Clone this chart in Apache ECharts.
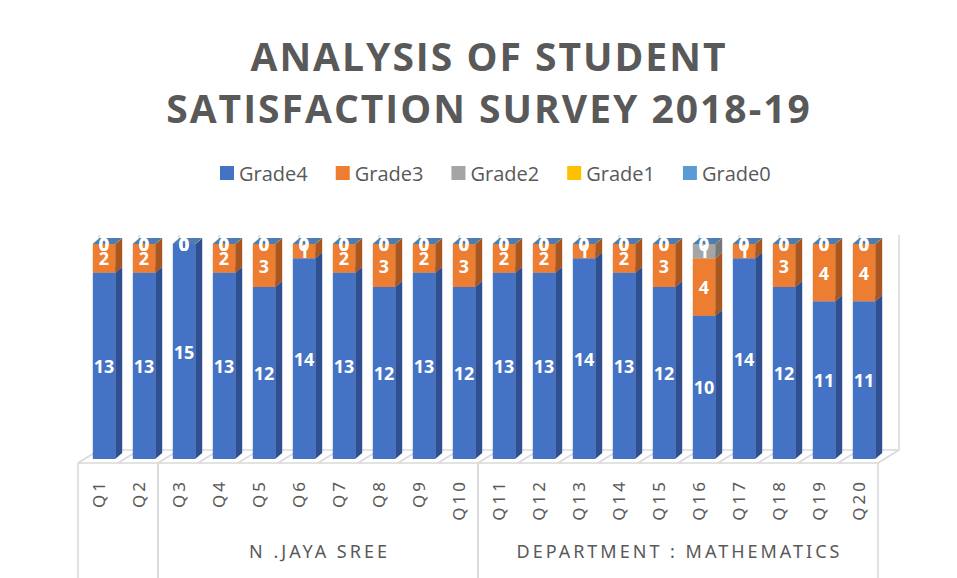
<!DOCTYPE html>
<html>
<head>
<meta charset="utf-8">
<script src="https://cdn.jsdelivr.net/npm/echarts@6/dist/echarts.min.js"></script>
<style>
  html, body { margin: 0; padding: 0; background: #fff; }
  #chart { width: 957px; height: 578px; }
  /* spaced-out text, like the Excel "expanded" spacing */
  #chart text[style*="Noto Sans"], #chart text[font-family*="Noto Sans"] { letter-spacing: 3px; }
  #chart text[style*="39px"], #chart text[font-size="39"], #chart text[font-size="39px"] { letter-spacing: 2px; }
</style>
</head>
<body>
<div id="chart"></div>
<script>
// data
const categories = ['Q1','Q2','Q3','Q4','Q5','Q6','Q7','Q8','Q9','Q10',
  'Q11','Q12','Q13','Q14','Q15','Q16','Q17','Q18','Q19','Q20'];
const grade4 = [13,13,15,13,12,14,13,12,13,12,13,13,14,13,12,10,14,12,11,11];
const grade3 = [2,2,0,2,3,1,2,3,2,3,2,2,1,2,3,4,1,3,4,4];
const grade2 = [0,0,0,0,0,0,0,0,0,0,0,0,0,0,0,1,0,0,0,0];
const grade1 = [0,0,0,0,0,0,0,0,0,0,0,0,0,0,0,0,0,0,0,0];
const grade0 = [0,0,0,0,0,0,0,0,0,0,0,0,0,0,0,0,0,0,0,0];
const groupNames = ['', 'N .JAYA SREE', 'DEPARTMENT : MATHEMATICS'];
const groupStart = [0, 2, 10];
const groupEnd = [1, 9, 19];

const gradeNames = ['Grade4','Grade3','Grade2','Grade1','Grade0'];
const gradeValues = [grade4, grade3, grade2, grade1, grade0];
const frontColors = ['#4472C4','#ED7D31','#A5A5A5','#FFC000','#5B9BD5'];
const sideColors = ['#2E5090','#A9571F','#777777','#B88A00','#41719C'];
const topColors = ['#5B86D0','#F19B5F','#BFBFBF','#FFD24D','#4C7EB3'];

// 3d look
const BAR_DX = 7, BAR_DY = -6;     // bar depth
const OFF_X = 6, OFF_Y = -4;       // bar front sits a bit behind the floor edge
const FLOOR_DX = 21, FLOOR_DY = -13;
const LINE = '#D9D9D9';

let chart = echarts.init(document.getElementById('chart'), null, { renderer: 'svg' });

let totals = categories.map((c, i) => gradeValues.reduce((s, g) => s + g[i], 0));
let wallTop = Math.max(...totals);

function barSeries(k) {
  let data = categories.map((c, i) => {
    let base = 0;
    for (let j = 0; j < k; j++) base += gradeValues[j][i];
    return [i, base, gradeValues[k][i]];
  });
  return {
    name: gradeNames[k],
    type: 'custom',
    clip: false,
    itemStyle: { color: frontColors[k] },
    data: data,
    renderItem: function (params, api) {
      let i = api.value(0), base = api.value(1), val = api.value(2);
      let p0 = api.coord([i, base]);
      let p1 = api.coord([i, base + val]);
      let w = api.size([1, 0])[0] * 0.56;
      let x0 = p0[0] - w / 2 + OFF_X, x1 = x0 + w;
      let yb = p0[1] + OFF_Y, yt = p1[1] + OFF_Y;
      return {
        type: 'group',
        children: [
          { type: 'polygon', shape: { points: [[x1, yb], [x1 + BAR_DX, yb + BAR_DY], [x1 + BAR_DX, yt + BAR_DY], [x1, yt]] },
            style: { fill: sideColors[k] } },
          { type: 'rect', shape: { x: x0, y: yt, width: w, height: yb - yt },
            style: { fill: frontColors[k] } },
          { type: 'polygon', shape: { points: [[x0, yt], [x0 + BAR_DX, yt + BAR_DY], [x1 + BAR_DX, yt + BAR_DY], [x1, yt]] },
            style: { fill: topColors[k] } },
          { type: 'text', z2: 100,
            style: { text: String(val), x: (x0 + x1) / 2, y: (yb + yt) / 2,
              align: 'center', verticalAlign: 'middle', textAlign: 'center', textVerticalAlign: 'middle',
              fill: '#fff', fontSize: 18, fontWeight: 'bold', fontFamily: 'Open Sans' } }
        ]
      };
    }
  };
}

// floor and back wall lines
let floorSeries = {
  type: 'custom',
  clip: false,
  silent: true,
  z: 1,
  data: categories.map((c, i) => [i, 0]),
  renderItem: function (params, api) {
    let i = api.value(0);
    let band = api.size([1, 0])[0];
    let p = api.coord([i, 0]);
    let top = api.coord([i, wallTop])[1];
    let lines = [];
    let xs = [p[0] - band / 2];
    if (i === categories.length - 1) xs.push(p[0] + band / 2);
    xs.forEach(x => {
      lines.push({ type: 'line', shape: { x1: x, y1: p[1], x2: x + FLOOR_DX, y2: p[1] + FLOOR_DY }, style: { stroke: LINE, lineWidth: 1.5 } });
      lines.push({ type: 'line', shape: { x1: x + FLOOR_DX, y1: p[1] + FLOOR_DY, x2: x + FLOOR_DX, y2: top + FLOOR_DY }, style: { stroke: LINE, lineWidth: 1.5 } });
    });
    if (i === 0) {
      let xr = api.coord([categories.length - 1, 0])[0] + band / 2;
      let xl = p[0] - band / 2;
      lines.push({ type: 'line', shape: { x1: xl, y1: p[1], x2: xr, y2: p[1] }, style: { stroke: LINE, lineWidth: 1.5 } });
      lines.push({ type: 'line', shape: { x1: xl + FLOOR_DX, y1: p[1] + FLOOR_DY, x2: xr + FLOOR_DX, y2: p[1] + FLOOR_DY }, style: { stroke: LINE, lineWidth: 1.5 } });
    }
    return { type: 'group', children: lines };
  }
};

// second level of the category axis
let groupSeries = {
  type: 'custom',
  clip: false,
  silent: true,
  z: 1,
  data: groupStart.map((s, k) => [s, groupEnd[k]]),
  renderItem: function (params, api) {
    let k = params.dataIndex;
    let band = api.size([1, 0])[0];
    let a = api.coord([api.value(0), 0]);
    let b = api.coord([api.value(1), 0]);
    let xl = a[0] - band / 2, xr = b[0] + band / 2;
    let children = [
      { type: 'line', shape: { x1: xl, y1: a[1], x2: xl, y2: a[1] + 130 }, style: { stroke: LINE, lineWidth: 1.5 } },
      { type: 'line', shape: { x1: xr, y1: a[1], x2: xr, y2: a[1] + 130 }, style: { stroke: LINE, lineWidth: 1.5 } },
      { type: 'text', style: { text: groupNames[k], x: (xl + xr) / 2 + 1.5, y: a[1] + 88,
          align: 'center', verticalAlign: 'middle', textAlign: 'center', textVerticalAlign: 'middle',
          fill: '#595959', fontSize: 18, fontFamily: 'Noto Sans' } }
    ];
    return { type: 'group', children: children };
  }
};

let option = {
  animation: false,
  color: frontColors,
  title: {
    text: 'ANALYSIS OF STUDENT\nSATISFACTION SURVEY 2018-19',
    left: 484,
    top: 24,
    textAlign: 'center',
    textStyle: { fontFamily: 'Open Sans', fontWeight: 'bold', fontSize: 39, lineHeight: 52, color: '#595959' }
  },
  legend: {
    data: gradeNames,
    left: 220,
    top: 163,
    padding: 0,
    icon: 'rect',
    itemWidth: 14,
    itemHeight: 14,
    itemGap: 28,
    textStyle: { fontFamily: 'Open Sans', fontSize: 20, color: '#595959' }
  },
  grid: { left: 78, right: 79, top: 248, bottom: 115 },
  xAxis: {
    type: 'category',
    data: categories,
    axisLine: { show: false },
    axisTick: { show: false },
    splitLine: { show: false },
    axisLabel: { rotate: 90, margin: 16, fontFamily: 'Noto Sans', fontSize: 17, color: '#595959', interval: 0 }
  },
  yAxis: { type: 'value', min: 0, max: 15, show: false },
  series: [floorSeries, groupSeries].concat(gradeNames.map((n, k) => barSeries(k)))
};

chart.setOption(option);
</script>
</body>
</html>
